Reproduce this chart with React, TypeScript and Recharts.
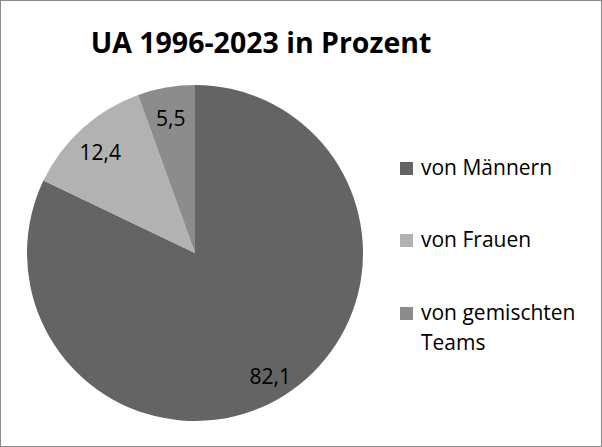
import { PieChart, Pie, Cell, Legend } from 'recharts'

const categories = ['von Männern', 'von Frauen', 'von gemischten Teams']
const shares = [82.1, 12.4, 5.5]

const COLORS = ['#646464', '#b2b2b2', '#8c8c8c']
const FONT = '"Open Sans", "Noto Sans", sans-serif'
const RADIAN = Math.PI / 180

const data = categories.map((name, i) => ({ name, value: shares[i] }))

function formatValue(v: number) {
  return v.toLocaleString('de-DE', { minimumFractionDigits: 1, maximumFractionDigits: 1 })
}

function renderLabel(props: any) {
  const { cx, cy, midAngle, outerRadius, value } = props
  const r = outerRadius * 0.84
  const x = cx + r * Math.cos(-midAngle * RADIAN)
  const y = cy + r * Math.sin(-midAngle * RADIAN) + 4
  return (
    <text
      x={x}
      y={y}
      fill="#000"
      textAnchor="middle"
      dominantBaseline="central"
      style={{ fontFamily: FONT, fontSize: 21 }}
    >
      {formatValue(value)}
    </text>
  )
}

function LegendBox() {
  const rows = [
    { lines: ['von Männern'], top: 0 },
    { lines: ['von Frauen'], top: 72 },
    { lines: ['von gemischten', 'Teams'], top: 145 },
  ]
  return (
    <div style={{ position: 'relative', width: 190, height: 220, fontFamily: FONT, fontSize: 21 }}>
      {rows.map((row, i) => (
        <div key={categories[i]} style={{ position: 'absolute', left: 0, top: row.top }}>
          <div
            style={{
              position: 'absolute',
              left: 0,
              top: 8,
              width: 13,
              height: 13,
              background: COLORS[i],
            }}
          />
          {row.lines.map((line, j) => (
            <div
              key={line}
              style={{ position: 'absolute', left: 21, top: -2 + j * 30, whiteSpace: 'nowrap', lineHeight: '30px', color: '#000' }}
            >
              {line}
            </div>
          ))}
        </div>
      ))}
    </div>
  )
}

export default function App() {
  return (
    <div
      style={{
        position: 'absolute',
        left: 0,
        top: 0,
        width: 602,
        height: 447,
        boxSizing: 'border-box',
        border: '1px solid #8a8a8a',
        background: '#fff',
      }}
    >
      <PieChart width={600} height={445} margin={{ top: 0, right: 0, bottom: 0, left: 0 }}>
        <text
          x={260}
          y={52}
          textAnchor="middle"
          fill="#000"
          style={{ fontFamily: FONT, fontSize: 28.5, fontWeight: 700 }}
        >
          UA 1996-2023 in Prozent
        </text>
        <Pie
          data={data}
          dataKey="value"
          nameKey="name"
          cx={194}
          cy={252}
          outerRadius={168}
          startAngle={90}
          endAngle={-270}
          stroke="none"
          label={renderLabel}
          labelLine={false}
          isAnimationActive={false}
        >
          {data.map((d, i) => (
            <Cell key={d.name} fill={COLORS[i]} />
          ))}
        </Pie>
        <Legend
          content={() => <LegendBox />}
          wrapperStyle={{ position: 'absolute', left: 399, top: 153, width: 190 }}
        />
      </PieChart>
    </div>
  )
}
